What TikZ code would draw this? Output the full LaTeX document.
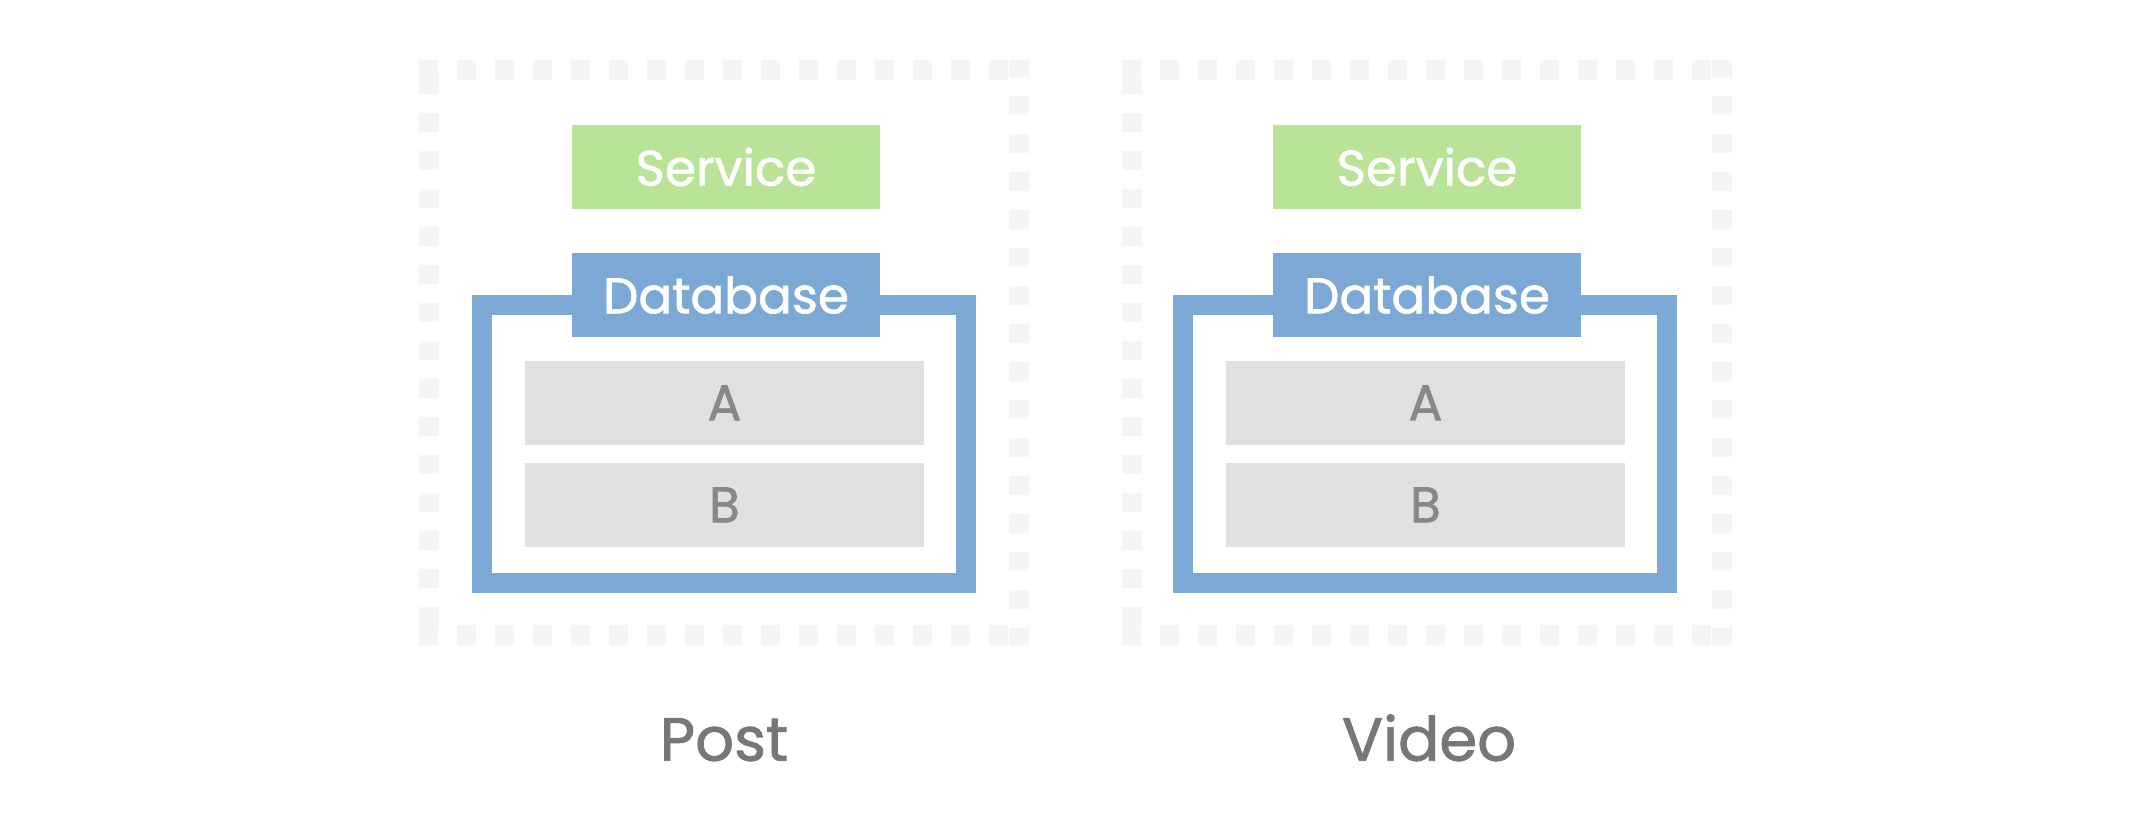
\documentclass[tikz,border=0pt]{standalone}
\usepackage{fontspec}
\setmainfont{Poppins}
\definecolor{svcgreen}{HTML}{B9E497}
\definecolor{dbblue}{HTML}{7BA8D4}
\definecolor{tblgray}{HTML}{E0E0E0}
\definecolor{dashgray}{HTML}{F5F5F5}
\definecolor{txtgray}{HTML}{888888}
\definecolor{lblgray}{HTML}{777777}
\tikzset{
  boxfont/.style={font=\fontsize{50}{58}\selectfont\addfontfeature{FakeBold=1.3}},
  svcbox/.style={fill=svcgreen, text=white, inner sep=0pt, minimum width=308pt, minimum height=83.7pt, boxfont},
  dbtab/.style={fill=dbblue, text=white, inner sep=0pt, minimum width=308pt, minimum height=83.4pt, boxfont},
  tblbox/.style={fill=tblgray, text=txtgray, inner sep=0pt, minimum width=399pt, minimum height=83.7pt, boxfont},
  dbframe/.style={draw=dbblue, line width=20pt, inner sep=0pt, minimum width=484pt, minimum height=278pt},
  hdash/.style={draw=dashgray, line width=20pt, dash pattern=on 19pt off 19pt},
  panellabel/.style={text=lblgray, inner sep=0pt, anchor=base, font=\fontsize{61}{68}\selectfont\addfontfeature{FakeBold=1.3}},
}
\begin{document}
\begin{tikzpicture}[x=1pt,y=-1pt]
\useasboundingbox (0,0) rectangle (2150,833);
\fill[white] (0,0) rectangle (2150,833);
\foreach \i/\dx/\ex/\lbl/\lx in {1/0/0/Post/724, 2/701/703/Video/1429}{
  % dashed container
  \coordinate (tl\i) at ({419+\ex},70);
  \coordinate (tr\i) at ({1029+\ex},70);
  \coordinate (bl\i) at ({419+\ex},635);
  \coordinate (br\i) at ({1029+\ex},635);
  \coordinate (lt\i) at ({429+\ex},60);
  \coordinate (lb\i) at ({429+\ex},645);
  \coordinate (rt\i) at ({1019+\ex},60);
  \coordinate (rb\i) at ({1019+\ex},645);
  \draw[hdash] (tl\i) -- (tr\i);
  \draw[hdash] (bl\i) -- (br\i);
  \draw[hdash, dash phase=23pt] (lt\i) -- (lb\i);
  \draw[hdash, dash phase=2pt] (rt\i) -- (rb\i);
  % database frame
  \node[dbframe] (frame\i) at ({724+\dx},444) {};
  \node[svcbox] (svc\i) at ({726+\dx},166.85) {Service};
  \node[dbtab] (db\i) at ({726+\dx},295) {Database};
  \node[tblbox] (ta\i) at ({724.5+\dx},402.85) {A};
  \node[tblbox] (tb\i) at ({724.5+\dx},504.85) {B};
  \node[panellabel] (lbl\i) at (\lx,760.7) {\lbl};
}
\end{tikzpicture}
\end{document}
